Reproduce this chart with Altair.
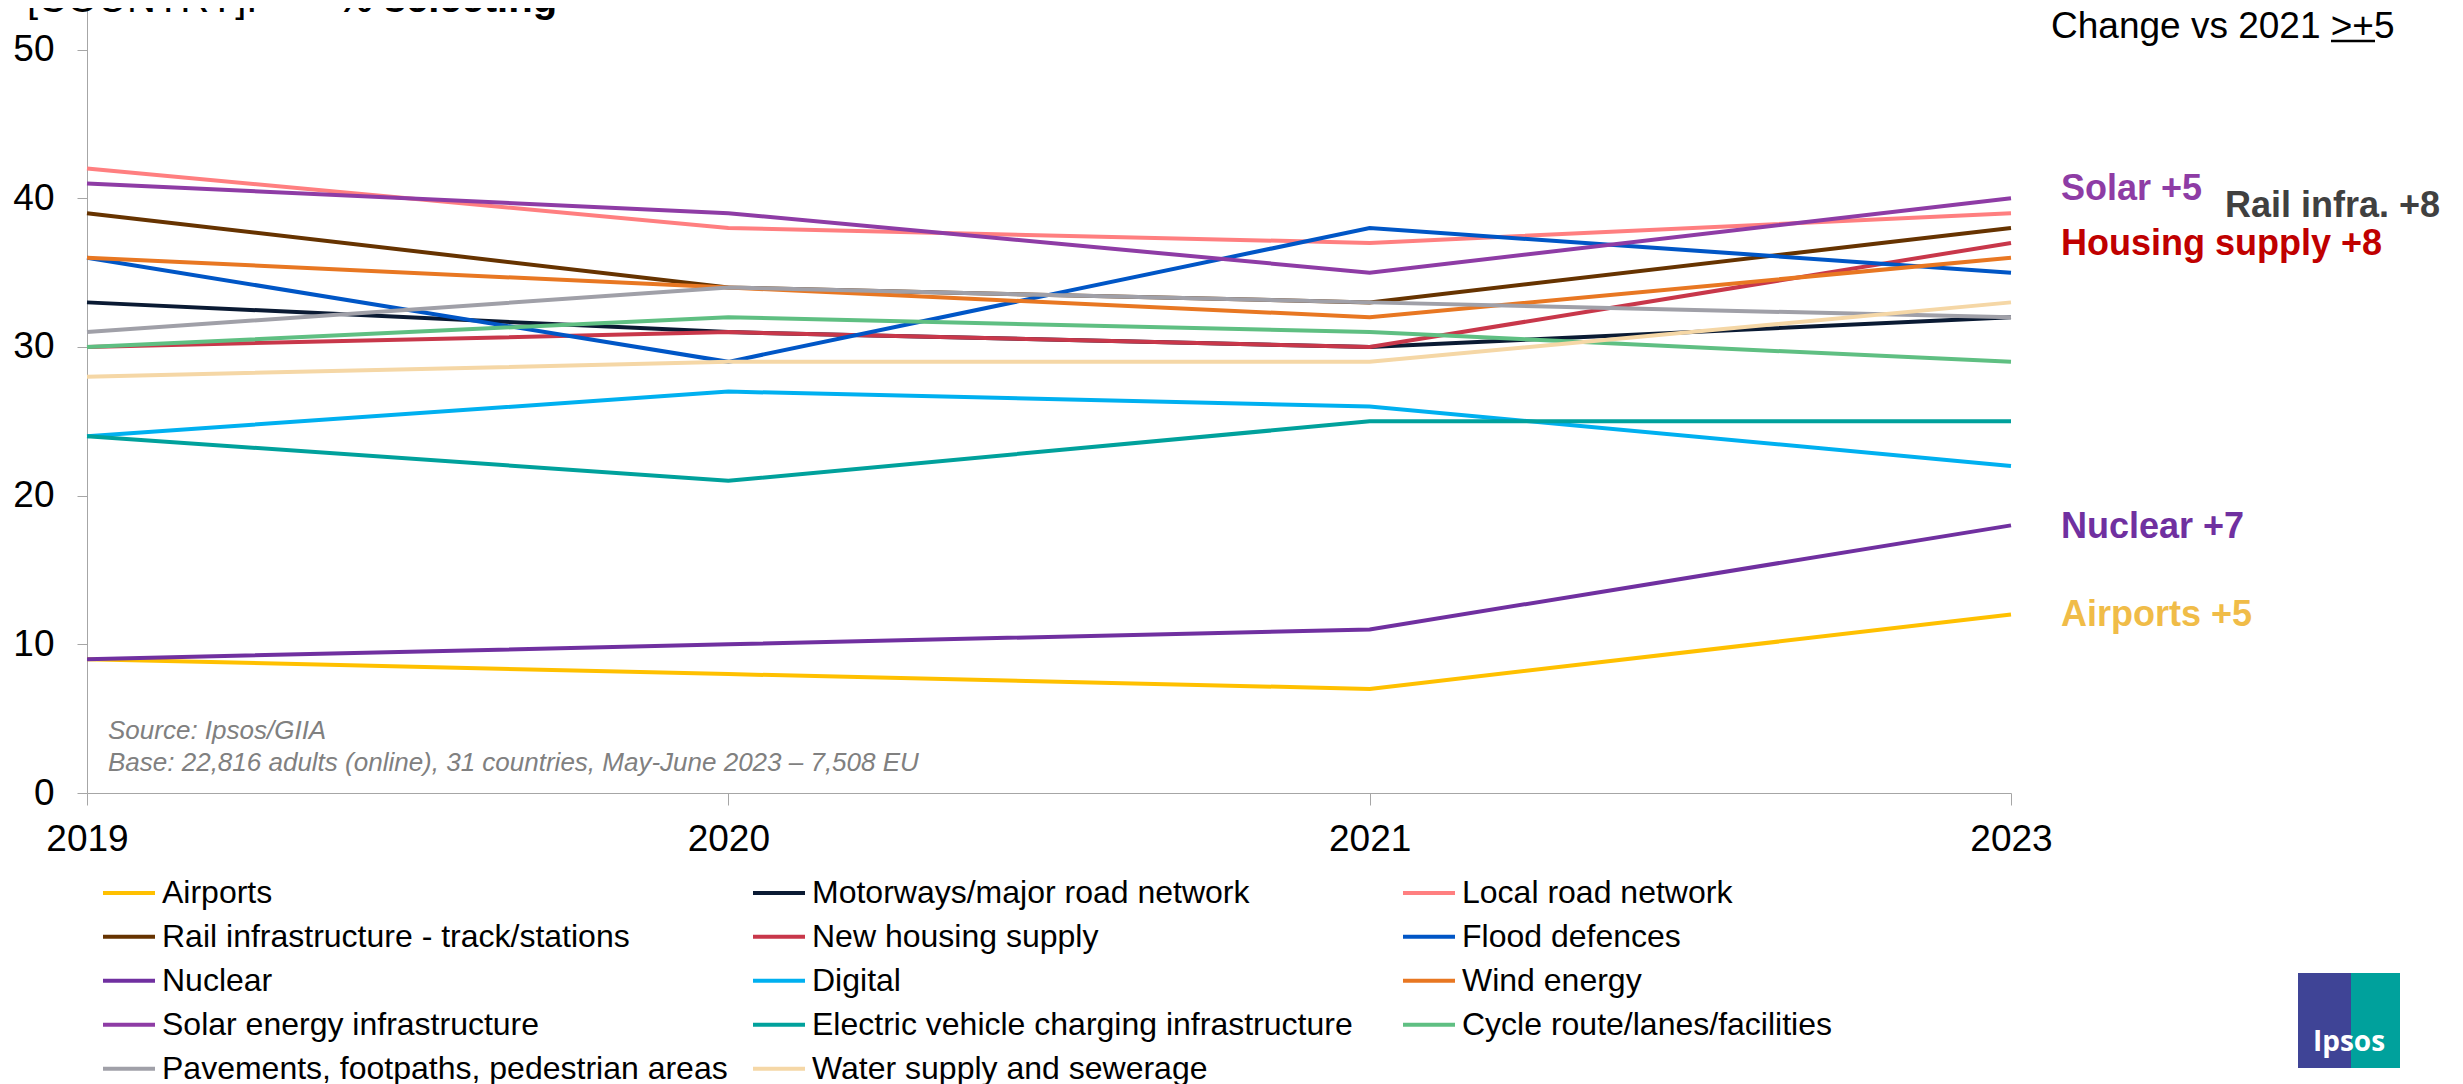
import altair as alt
import pandas as pd

# ---------------- data ----------------
years = ["2019", "2020", "2021", "2023"]

series_names = [
    "Airports",
    "Motorways/major road network",
    "Local road network",
    "Rail infrastructure - track/stations",
    "New housing supply",
    "Flood defences",
    "Nuclear",
    "Digital",
    "Wind energy",
    "Solar energy infrastructure",
    "Electric vehicle charging infrastructure",
    "Cycle route/lanes/facilities",
    "Pavements, footpaths, pedestrian areas",
    "Water supply and sewerage",
]

airports = [9, 8, 7, 12]
motorways = [33, 31, 30, 32]
local_road = [42, 38, 37, 39]
rail = [39, 34, 33, 38]
housing = [30, 31, 30, 37]
flood = [36, 29, 38, 35]
nuclear = [9, 10, 11, 18]
digital = [24, 27, 26, 22]
wind = [36, 34, 32, 36]
solar = [41, 39, 35, 40]
ev_charging = [24, 21, 25, 25]
cycle = [30, 32, 31, 29]
pavements = [31, 34, 33, 32]
water = [28, 29, 29, 33]

series_values = [airports, motorways, local_road, rail, housing, flood, nuclear,
                 digital, wind, solar, ev_charging, cycle, pavements, water]

series_colors = [
    "#FFC000", "#0A1A33", "#FF7F80", "#663300", "#C8374A", "#0056C6", "#7030A0",
    "#00B0F0", "#E87722", "#8E3CA5", "#00A19C", "#5FBF82", "#A0A0A8", "#F5D7A6",
]

ann_text = ["Solar +5", "Rail infra. +8", "Housing supply +8", "Nuclear +7", "Airports +5"]
ann_value = [40.6, 39.5, 36.9, 17.9, 12.0]
ann_color = ["#8E3CA5", "#404040", "#C00000", "#7030A0", "#F0BC48"]
ann_dx = [50, 214, 50, 50, 50]

source_lines = ["Source: Ipsos/GIIA",
                "Base: 22,816 adults (online), 31 countries, May-June 2023 \u2013 7,508 EU"]

# ---------------- build ----------------
rows = []
for name, vals in zip(series_names, series_values):
    for yr, v in zip(years, vals):
        rows.append({"series": name, "year": yr, "value": v})
df = pd.DataFrame(rows)

FONT = "Liberation Sans, Arial, Helvetica, sans-serif"
AXIS_GREY = "#A6A6A6"

x_scale = alt.Scale(type="point", padding=0, domain=years)
y_scale = alt.Scale(domain=[0, 52.8], nice=False, zero=True)

x_axis = alt.Axis(title=None, labelAngle=0, labelFontSize=37, labelFont=FONT,
                  labelColor="black", tickSize=12, tickColor=AXIS_GREY,
                  domainColor=AXIS_GREY, labelPadding=16, grid=False)
y_axis = alt.Axis(title=None, values=[0, 10, 20, 30, 40, 50], labelFontSize=37,
                  labelFont=FONT, labelColor="black", tickSize=10,
                  tickColor=AXIS_GREY, domainColor=AXIS_GREY, labelPadding=23,
                  grid=False)

x_enc = alt.X("year:O", scale=x_scale, axis=x_axis)
y_enc = alt.Y("value:Q", scale=y_scale, axis=y_axis)

lines = alt.Chart(df).mark_line(strokeWidth=4).encode(
    x=x_enc,
    y=y_enc,
    color=alt.Color(
        "series:N",
        scale=alt.Scale(domain=series_names, range=series_colors),
        legend=alt.Legend(
            title=None, orient="none", legendX=14, legendY=863, columns=3,
            direction="horizontal",
            symbolType="stroke", symbolSize=2704, symbolStrokeWidth=4,
            labelFontSize=32, labelFont=FONT, labelColor="black",
            labelOffset=5, columnPadding=23, rowPadding=0, clipHeight=43.5,
            gridAlign="all", labelLimit=2000, padding=0, offset=0,
        ),
    ),
)

layers = [lines]

# annotations at the 2023 line ends
for t, v, c, dx in zip(ann_text, ann_value, ann_color, ann_dx):
    adf = pd.DataFrame({"year": ["2023"], "value": [v], "label": [t]})
    layers.append(
        alt.Chart(adf).mark_text(align="left", baseline="middle", dx=dx,
                                 fontSize=36, fontWeight="bold", font=FONT,
                                 color=c).encode(
            x=x_enc, y=y_enc, text="label:N")
    )

one = pd.DataFrame({"k": [0]})

# header note
layers.append(alt.Chart(one).mark_text(align="left", baseline="alphabetic", fontSize=37,
                                       font=FONT, color="black",
                                       text="Change vs 2021 >+5").encode(
    x=alt.value(1964), y=alt.value(30)))
layers.append(alt.Chart(one).mark_rule(color="black", strokeWidth=2.5).encode(
    x=alt.value(2244), x2=alt.value(2288), y=alt.value(33)))

# title (partially above the page, as in the original)
layers.append(alt.Chart(one).mark_text(align="left", baseline="alphabetic", fontSize=40,
                                       font=FONT, color="black",
                                       text="[COUNTRY]:").encode(
    x=alt.value(-60), y=alt.value(4)))
layers.append(alt.Chart(one).mark_text(align="left", baseline="alphabetic", fontSize=40,
                                       font=FONT, fontWeight="bold", color="black",
                                       text="% selecting").encode(
    x=alt.value(250), y=alt.value(4)))

# source note
for i, line in enumerate(source_lines):
    layers.append(alt.Chart(one).mark_text(align="left", baseline="middle", fontSize=26,
                                           font=FONT, fontStyle="italic",
                                           color="#808080", text=line).encode(
        x=alt.value(21), y=alt.value(723 + 32 * i)))

# Ipsos logo (simplified)
layers.append(alt.Chart(one).mark_rect(color="#00A19C").encode(
    x=alt.value(2211), x2=alt.value(2313), y=alt.value(965), y2=alt.value(1060)))
layers.append(alt.Chart(one).mark_rect(color="#3F4496").encode(
    x=alt.value(2211), x2=alt.value(2264), y=alt.value(965), y2=alt.value(1060)))
layers.append(alt.Chart(one).mark_text(align="center", baseline="middle", fontSize=28,
                                       font="Open Sans, Liberation Sans, sans-serif",
                                       fontWeight="bold", color="white",
                                       text="Ipsos").encode(
    x=alt.value(2262), y=alt.value(1035)))

chart = alt.layer(*layers).properties(
    width=1924,
    height=785,
    autosize=alt.AutoSizeParams(type="none"),
    padding={"left": 79, "top": 0, "right": 444, "bottom": 292},
    background="white",
).configure_view(stroke=None)

chart.save("out.html", embed_options={"renderer": "svg", "actions": False})
